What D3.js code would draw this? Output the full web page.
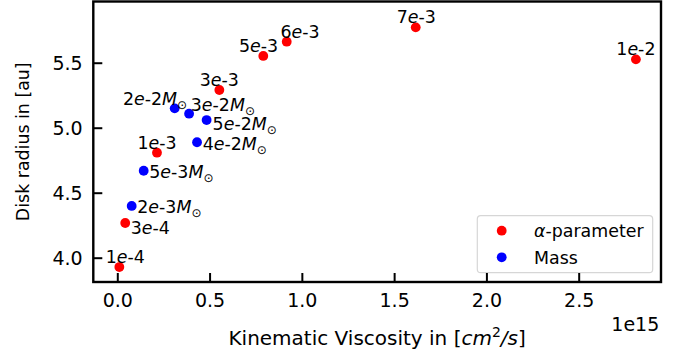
<!DOCTYPE html>
<html>
<head>
<meta charset="utf-8">
<script src="https://cdn.jsdelivr.net/npm/d3@7"></script>
<style>
  body { margin: 0; background: #fff; }
  svg { display: block; }
  text { font-family: "DejaVu Sans", sans-serif; fill: #000; }
</style>
</head>
<body>
<svg id="chart" width="686" height="362"></svg>
<script>
// Runs with different alpha-viscosity parameters
const alphaLabels = ["1e-4", "3e-4", "1e-3", "3e-3", "5e-3", "6e-3", "7e-3", "1e-2"];
const alphaViscosity = [0.011e15, 0.043e15, 0.215e15, 0.553e15, 0.791e15, 0.918e15, 1.617e15, 2.810e15];
const alphaRadius = [3.928, 4.267, 4.808, 5.290, 5.552, 5.662, 5.772, 5.526];

// Runs with different disk masses (in solar masses)
const massLabels = ["2e-3", "5e-3", "2e-2", "3e-2", "4e-2", "5e-2"];
const massViscosity = [0.078e15, 0.143e15, 0.311e15, 0.389e15, 0.432e15, 0.484e15];
const massRadius = [4.398, 4.669, 5.149, 5.108, 4.888, 5.059];

const xTicks = [0, 0.5e15, 1.0e15, 1.5e15, 2.0e15, 2.5e15];
const yTicks = [4.0, 4.5, 5.0, 5.5];
const xDomain = [-0.130e15, 2.946e15];
const yDomain = [3.813, 5.971];

// Annotation placement: [dx, dy of text centre, anchor]
const alphaLabelLayout = [
  [6, -10.3, "middle"], [5.4, 4.3, "start"], [0, -10, "middle"], [0, -10, "middle"],
  [-4.8, -10.3, "middle"], [13.3, -10, "middle"], [0.5, -10.6, "middle"], [0, -11, "middle"]
];
const massLabelLayout = [
  [5.6, 0.3, "start"], [5.6, 1, "start"], [-19.7, -9.3, "middle"],
  [1.7, -9.4, "start"], [5.7, 1, "start"], [6, 4, "start"]
];

const svg = d3.select("#chart");
const plotLeft = 93.3, plotRight = 661, plotTop = 1.5, plotBottom = 282;
const x = d3.scaleLinear().domain(xDomain).range([plotLeft, plotRight]);
const y = d3.scaleLinear().domain(yDomain).range([plotBottom, plotTop]);

const tickFont = 19, annFont = 17.4;

// Legend sits under the axis ticks
const legend = svg.append("g");
legend.append("rect")
  .attr("x", 477.3).attr("y", 215.7).attr("width", 175.4).attr("height", 57)
  .attr("rx", 3.5).attr("fill", "#fff").attr("fill-opacity", 0.8)
  .attr("stroke", "#d6d6d6").attr("stroke-width", 1.2);
const legendItems = [["red", "alpha"], ["blue", "Mass"]];
legendItems.forEach(([c, name], i) => {
  const ly = 230.7 + i * 26.6;
  legend.append("circle").attr("cx", 501.7).attr("cy", ly).attr("r", 4.9).attr("fill", c);
  const t = legend.append("text").attr("x", 534).attr("y", ly + 0.36 * annFont)
    .attr("font-size", annFont);
  if (name === "alpha") {
    t.append("tspan").attr("font-style", "italic").text("α");
    t.append("tspan").text("-parameter");
  } else {
    t.text(name);
  }
});

// Axes with inward ticks
const xAxis = svg.append("g").attr("transform", `translate(0,${plotBottom})`)
  .call(d3.axisBottom(x).tickValues(xTicks).tickSizeInner(-9).tickSizeOuter(0)
    .tickFormat(d => (d / 1e15).toFixed(1)));
xAxis.select(".domain").remove();
xAxis.selectAll(".tick line").attr("stroke", "#000").attr("stroke-width", 2);
xAxis.selectAll(".tick text").attr("y", 25).attr("dy", null)
  .attr("font-size", tickFont).attr("font-family", "DejaVu Sans").attr("fill", "#000");

const yAxis = svg.append("g").attr("transform", `translate(${plotLeft},0)`)
  .call(d3.axisLeft(y).tickValues(yTicks).tickSizeInner(-9).tickSizeOuter(0)
    .tickPadding(10.6).tickFormat(d3.format(".1f")));
yAxis.select(".domain").remove();
yAxis.selectAll(".tick line").attr("stroke", "#000").attr("stroke-width", 2);
yAxis.selectAll(".tick text").attr("dy", "0.36em")
  .attr("font-size", tickFont).attr("font-family", "DejaVu Sans").attr("fill", "#000");

// Frame
svg.append("rect").attr("x", plotLeft).attr("y", plotTop)
  .attr("width", plotRight - plotLeft).attr("height", plotBottom - plotTop)
  .attr("fill", "none").attr("stroke", "#000").attr("stroke-width", 2.4);

// Points
const alphaData = alphaLabels.map((l, i) => ({ l, v: alphaViscosity[i], r: alphaRadius[i], p: alphaLabelLayout[i] }));
const massData = massLabels.map((l, i) => ({ l, v: massViscosity[i], r: massRadius[i], p: massLabelLayout[i] }));

svg.append("g").selectAll("circle").data(alphaData).join("circle")
  .attr("cx", d => x(d.v)).attr("cy", d => y(d.r)).attr("r", 4.9).attr("fill", "red");
svg.append("g").selectAll("circle").data(massData).join("circle")
  .attr("cx", d => x(d.v)).attr("cy", d => y(d.r)).attr("r", 4.9).attr("fill", "blue");

function writeLabel(t, code, solar) {
  const [m, ex] = code.split("e");
  t.append("tspan").text(m);
  t.append("tspan").attr("font-style", "italic").text("e");
  t.append("tspan").text(ex);
  if (solar) {
    t.append("tspan").attr("font-style", "italic").text("M");
    t.append("tspan").attr("font-size", 12).attr("dy", 4).text("⊙");
  }
}

function annotate(data, solar) {
  data.forEach(d => {
    const t = svg.append("text")
      .attr("x", x(d.v) + d.p[0])
      .attr("y", y(d.r) + d.p[1] + 0.36 * annFont)
      .attr("text-anchor", d.p[2])
      .attr("font-size", annFont);
    writeLabel(t, d.l, solar);
  });
}
annotate(alphaData, false);
annotate(massData, true);

// Axis titles and offset
svg.append("text").attr("x", plotRight - 1.7).attr("y", 331.3).attr("text-anchor", "end")
  .attr("font-size", tickFont).text("1e15");

const xl = svg.append("text").attr("x", (plotLeft + plotRight) / 2).attr("y", 345.3)
  .attr("text-anchor", "middle").attr("font-size", 20);
xl.append("tspan").text("Kinematic Viscosity in [");
xl.append("tspan").attr("font-style", "italic").text("cm");
xl.append("tspan").attr("font-size", 14).attr("dy", -8).text("2");
xl.append("tspan").attr("font-style", "italic").attr("dy", 8).text("/s");
xl.append("tspan").text("]");

svg.append("text")
  .attr("transform", `translate(29.3,${(plotTop + plotBottom) / 2}) rotate(-90)`)
  .attr("text-anchor", "middle").attr("font-size", 17.4)
  .text("Disk radius in [au]");
</script>
</body>
</html>
